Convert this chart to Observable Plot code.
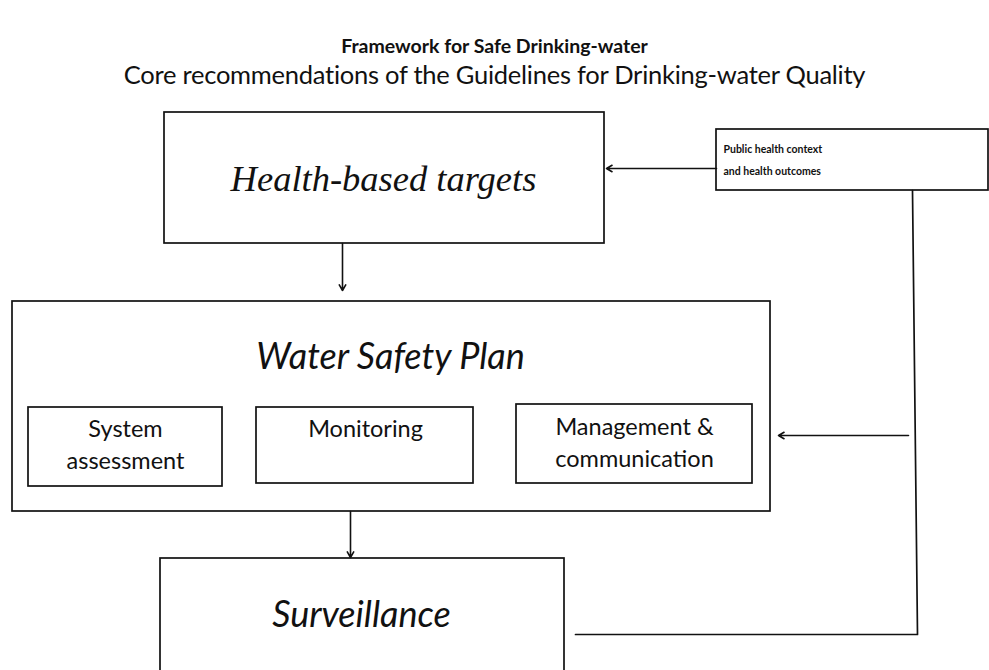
<!DOCTYPE html>
<html>
<head>
<meta charset="utf-8">
<script src="https://cdn.jsdelivr.net/npm/d3@7"></script>
<script src="https://cdn.jsdelivr.net/npm/@observablehq/plot@0.6"></script>
<style>
  html, body { margin: 0; padding: 0; background: #fff; overflow: hidden; }
  #head { position: relative; width: 989px; height: 100px; font-family: Lato, "Open Sans", sans-serif; color: #111; }
  #head .t { position: absolute; left: 0; width: 989px; text-align: center; line-height: 1; white-space: nowrap; }
  #title { top: 36px; font-size: 19.5px; font-weight: bold; }
  #subtitle { top: 62px; font-size: 25.5px; letter-spacing: -0.25px; }
  #chart svg { display: block; }
</style>
</head>
<body>
<div id="head">
  <div class="t" id="title"></div>
  <div class="t" id="subtitle"></div>
</div>
<div id="chart"></div>
<script>
// ---- Text ----
const titleText = "Framework for Safe Drinking-water";
const subtitleText = "Core recommendations of the Guidelines for Drinking-water Quality";

// ---- Diagram nodes (diagram units = page pixels) ----
const nodeIds   = ["targets", "wsp", "system", "monitoring", "management", "context", "surveillance"];
const nodeX1    = [164, 12, 28, 256, 516, 716, 160];
const nodeX2    = [604, 770, 222, 473, 752, 988, 564];
const nodeY1    = [112, 301, 407, 407, 404, 129, 558];
const nodeY2    = [243, 511, 486, 483, 483, 190, 700];

// ---- Labels ----
const mainLabels   = ["Health-based targets", "Water Safety Plan", "Surveillance"];
const mainLabelX   = [383, 390, 361];
const mainLabelY   = [179, 357, 615];
const subLabels    = ["System\nassessment", "Monitoring", "Management &\ncommunication"];
const subLabelX    = [125, 365, 634];
const subLabelY    = [442, 426, 440];
const contextLabel = ["Public health context\nand health outcomes"];
const contextX     = [723];
const contextY     = [156];

// ---- Arrows (from -> to) ----
const arrowX1 = [716, 342, 908, 350];
const arrowY1 = [168, 243, 435, 511];
const arrowX2 = [606, 342, 778, 350];
const arrowY2 = [168, 290, 435, 557];

// ---- Feedback connector (surveillance -> context box) ----
const feedX = [575, 917, 912];
const feedY = [634, 634, 190];

document.getElementById("title").textContent = titleText;
document.getElementById("subtitle").textContent = subtitleText;

const nodes = nodeIds.map((id, i) => ({id, x1: nodeX1[i], x2: nodeX2[i], y1: nodeY1[i], y2: nodeY2[i]}));
const arrows = arrowX1.map((_, i) => ({x1: arrowX1[i], y1: arrowY1[i], x2: arrowX2[i], y2: arrowY2[i]}));
const feed = feedX.map((x, i) => ({x, y: feedY[i]}));
const mains = mainLabels.map((t, i) => ({t, x: mainLabelX[i], y: mainLabelY[i]}));
const subs = subLabels.map((t, i) => ({t, x: subLabelX[i], y: subLabelY[i]}));
const ctx = contextLabel.map((t, i) => ({t, x: contextX[i], y: contextY[i]}));

const ink = "#111";

const chart = Plot.plot({
  width: 989,
  height: 570,
  margin: 0,
  style: {background: "white", overflow: "hidden"},
  x: {domain: [0, 989], range: [0, 989], axis: null},
  y: {domain: [100, 670], range: [0, 570], axis: null},
  marks: [
    Plot.rect(nodes, {x1: "x1", x2: "x2", y1: "y1", y2: "y2", fill: "white", stroke: ink, strokeWidth: 1.7}),
    Plot.line(feed, {x: "x", y: "y", stroke: ink, strokeWidth: 1.7}),
    Plot.arrow(arrows, {x1: "x1", y1: "y1", x2: "x2", y2: "y2", stroke: ink, strokeWidth: 1.6, headLength: 6, headAngle: 60}),
    Plot.text(mains.slice(0, 1), {x: "x", y: "y", text: "t", fontFamily: "'Liberation Serif', serif", fontStyle: "italic", fontSize: 36.5, fill: ink}),
    Plot.text(mains.slice(1), {x: "x", y: "y", text: "t", fontFamily: "Lato, sans-serif", fontStyle: "italic", fontSize: 36, fill: ink}),
    Plot.text(subs, {x: "x", y: "y", text: "t", fontFamily: "Lato, sans-serif", fontSize: 23.5, lineHeight: 1.4, fill: ink}),
    Plot.text(ctx, {x: "x", y: "y", text: "t", textAnchor: "start", fontFamily: "Lato, sans-serif", fontWeight: "bold", fontSize: 10.5, lineHeight: 2.1, fill: ink})
  ]
});
document.getElementById("chart").appendChild(chart);
</script>
</body>
</html>
